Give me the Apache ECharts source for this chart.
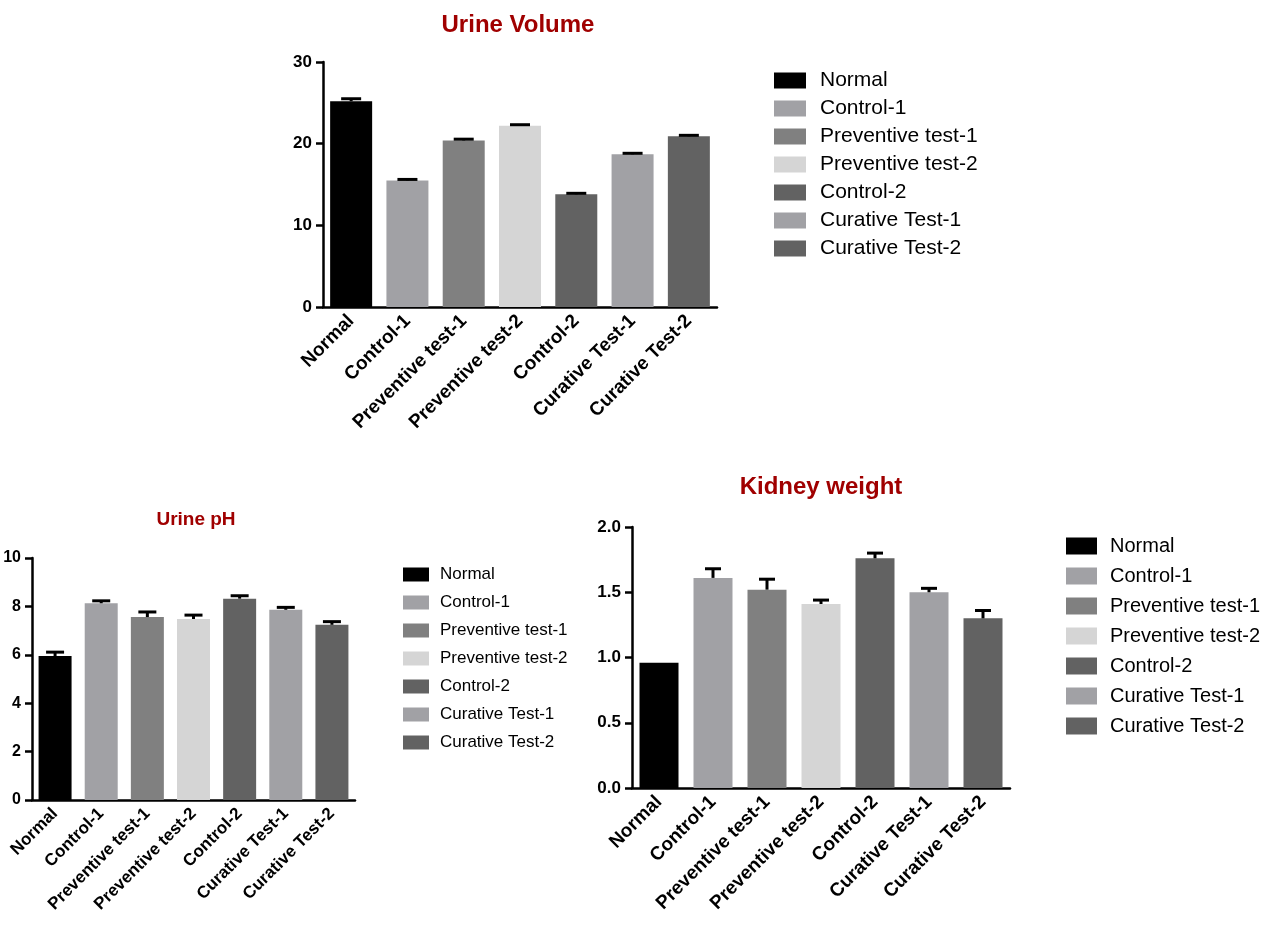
<!DOCTYPE html>
<html>
<head>
<meta charset="utf-8">
<script src="https://cdn.jsdelivr.net/npm/echarts@6/dist/echarts.min.js"></script>
<style>
  html, body { margin: 0; padding: 0; background: #fff; }
  #chart { width: 1261px; height: 931px; }
</style>
</head>
<body>
<div id="chart"></div>
<script>
// Treatment groups (x categories and legend entries)
const categories = ['Normal', 'Control-1', 'Preventive test-1', 'Preventive test-2', 'Control-2', 'Curative Test-1', 'Curative Test-2'];
const groupColors = ['#000000', '#a1a1a5', '#808080', '#d5d5d5', '#626262', '#a1a1a5', '#626262'];

// Urine volume: mean and SEM
const volumeMean = [25.2, 15.5, 20.4, 22.2, 13.8, 18.7, 20.9];
const volumeErr  = [0.3, 0.12, 0.15, 0.12, 0.12, 0.12, 0.12];

// Urine pH: mean and SEM
const phMean = [5.95, 8.13, 7.56, 7.48, 8.32, 7.86, 7.24];
const phErr  = [0.16, 0.1, 0.21, 0.16, 0.12, 0.1, 0.13];

// Kidney weight: mean and SEM
const kidneyMean = [0.96, 1.61, 1.52, 1.41, 1.76, 1.50, 1.30];
const kidneyErr  = [0, 0.07, 0.08, 0.03, 0.04, 0.03, 0.06];

const FONT = '"Liberation Sans", Arial, Helvetica, sans-serif';
const TITLE_COLOR = '#a00000';

const panels = [
  { title: 'Urine Volume', mean: volumeMean, err: volumeErr,
    grid: { left: 323, top: 62, width: 394, height: 245 },
    y: { max: 30, interval: 10, digits: 0 }, barWidth: 42, cap: 10,
    axisFont: 17, catFont: 19,
    titlePos: [518, 25], titleSize: 24,
    legend: { left: 774, top: 70, w: 32, h: 16, gap: 7, font: 21, pad: 9 } },
  { title: 'Urine pH', mean: phMean, err: phErr,
    grid: { left: 32, top: 558, width: 323, height: 242 },
    y: { max: 10, interval: 2, digits: 0 }, barWidth: 33, cap: 9,
    axisFont: 16, catFont: 17,
    titlePos: [196, 520], titleSize: 19,
    legend: { left: 403, top: 566, w: 26, h: 14, gap: 11, font: 17, pad: 6 } },
  { title: 'Kidney weight', mean: kidneyMean, err: kidneyErr,
    grid: { left: 632, top: 527, width: 378, height: 261 },
    y: { max: 2, interval: 0.5, digits: 1 }, barWidth: 39, cap: 8,
    axisFont: 17, catFont: 19,
    titlePos: [821, 487], titleSize: 24,
    legend: { left: 1066, top: 536, w: 31, h: 17, gap: 10, font: 20, pad: 8 } }
];

function errorBarRenderer(capHalf) {
  return function (params, api) {
    const idx = api.value(0);
    const v = api.value(1);
    const e = api.value(2);
    if (!(e > 0)) return null;
    const base = api.coord([idx, v]);
    const top = api.coord([idx, v + e]);
    const style = { stroke: '#000', lineWidth: 3 };
    return {
      type: 'group',
      children: [
        { type: 'line', shape: { x1: base[0], y1: base[1], x2: top[0], y2: top[1] }, style: style },
        { type: 'line', shape: { x1: top[0] - capHalf, y1: top[1], x2: top[0] + capHalf, y2: top[1] }, style: style }
      ]
    };
  };
}

const option = {
  backgroundColor: '#ffffff',
  animation: false,
  grid: [], xAxis: [], yAxis: [], legend: [], series: [], graphic: []
};

panels.forEach(function (p, pi) {
  option.grid.push(Object.assign({ containLabel: false }, p.grid));

  option.xAxis.push({
    type: 'category', gridIndex: pi, data: categories,
    axisLine: { lineStyle: { color: '#000', width: 2.5 } },
    axisTick: { alignWithLabel: true, length: 7, lineStyle: { color: '#000', width: 2.5 } },
    axisLabel: {
      rotate: 45, margin: 11, interval: 0,
      fontFamily: FONT, fontWeight: 'bold', fontSize: p.catFont, color: '#000'
    },
    splitLine: { show: false }
  });

  option.yAxis.push({
    type: 'value', gridIndex: pi, min: 0, max: p.y.max, interval: p.y.interval,
    axisLine: { show: true, lineStyle: { color: '#000', width: 2.5 } },
    axisTick: { show: true, length: 7, lineStyle: { color: '#000', width: 2.5 } },
    axisLabel: {
      margin: 11, fontFamily: FONT, fontWeight: 'bold', fontSize: p.axisFont, color: '#000',
      formatter: function (v) { return v.toFixed(p.y.digits); }
    },
    splitLine: { show: false }
  });

  option.legend.push({
    orient: 'vertical', left: p.legend.left, top: p.legend.top,
    itemWidth: p.legend.w, itemHeight: p.legend.h, itemGap: p.legend.gap,
    icon: 'rect', padding: 0, selectedMode: false,
    data: categories,
    textStyle: {
      fontFamily: FONT, fontSize: p.legend.font, color: '#000',
      lineHeight: p.legend.h, padding: [0, 0, 0, p.legend.pad]
    }
  });

  // One stacked bar series per group so each group gets its own legend entry
  categories.forEach(function (name, ci) {
    option.series.push({
      type: 'bar', name: name, xAxisIndex: pi, yAxisIndex: pi,
      stack: 'panel' + pi, barWidth: p.barWidth,
      itemStyle: { color: groupColors[ci] },
      data: p.mean.map(function (v, k) { return k === ci ? v : null; }),
      z: 2
    });
  });

  option.series.push({
    type: 'custom', name: 'sem' + pi, xAxisIndex: pi, yAxisIndex: pi,
    renderItem: errorBarRenderer(p.cap),
    encode: { x: 0, y: 1 },
    data: p.mean.map(function (v, k) { return [k, v, p.err[k]]; }),
    z: 5, silent: true
  });

  option.graphic.push({
    type: 'text', x: p.titlePos[0], y: p.titlePos[1],
    style: {
      text: p.title, fill: TITLE_COLOR,
      font: 'bold ' + p.titleSize + 'px ' + FONT,
      textAlign: 'center', textVerticalAlign: 'middle'
    }
  });
});

const chart = echarts.init(document.getElementById('chart'), null, { renderer: 'canvas' });
chart.setOption(option);
</script>
</body>
</html>
